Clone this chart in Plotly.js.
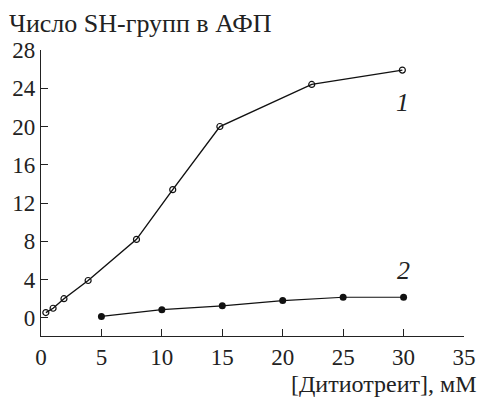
<!DOCTYPE html>
<html><head><meta charset="utf-8">
<script src="https://cdn.plot.ly/plotly-3.0.1.min.js"></script>
<style>html,body{margin:0;padding:0;background:#fff}</style>
</head><body>
<div id="chart" style="width:481px;height:397px"></div>
<script>
const dttConc1 = [0.4, 1.0, 1.9, 3.9, 7.9, 10.9, 14.8, 22.4, 29.9];
const shGroups1 = [0.55, 1.0, 2.0, 3.9, 8.2, 13.4, 20.0, 24.4, 25.9];
const dttConc2 = [5, 10, 15, 20, 25, 30];
const shGroups2 = [0.15, 0.85, 1.25, 1.8, 2.15, 2.15];
const xTicks = [0, 5, 10, 15, 20, 25, 30, 35];
const yTicks = [0, 4, 8, 12, 16, 20, 24, 28];
const seriesLabels = ['1', '2'];
const titleText = 'Число SH-групп в АФП';
const xTitleText = '[Дитиотреит], мМ';

const serif = 'Liberation Serif';
const fsTick = 23;
const fsTitle = 26;
const fsXTitle = 24;
const ink = '#222';
const traces = [
  {x: dttConc1, y: shGroups1, mode: 'lines+markers', type: 'scatter',
   line: {color: '#111', width: 1.4},
   marker: {symbol: 'circle-open', size: 6, color: '#111', line: {width: 1.2, color: '#111'}}},
  {x: dttConc2, y: shGroups2, mode: 'lines+markers', type: 'scatter',
   line: {color: '#111', width: 1.2},
   marker: {symbol: 'circle', size: 7, color: '#111'}}
];
const layout = {
  width: 481, height: 397,
  margin: {l: 41, r: 17, t: 50, b: 61},
  showlegend: false,
  paper_bgcolor: '#fff', plot_bgcolor: '#fff',
  font: {family: serif, size: fsTick, color: ink},
  title: {text: titleText, xref: 'container', yref: 'container', x: 9/481, xanchor: 'left',
          y: 1 - 23/397, yanchor: 'middle', font: {family: serif, size: fsTitle, color: ink}},
  xaxis: {range: [0, 35], tickvals: xTicks, ticktext: xTicks.map(String), ticks: 'inside', ticklen: 7,
          tickcolor: ink, showline: true, linecolor: ink, linewidth: 1.2, showgrid: false, zeroline: false,
          tickfont: {family: serif, size: fsTick, color: ink}},
  yaxis: {range: [-1.9, 28], tickvals: yTicks, ticktext: yTicks.map(String), ticks: 'inside', ticklen: 7,
          tickcolor: ink, showline: true, linecolor: ink, linewidth: 1.2, showgrid: false, zeroline: false,
          tickfont: {family: serif, size: fsTick, color: ink}},
  annotations: [
    {x: dttConc1[8], y: 22.5, xref: 'x', yref: 'y', text: '<i>' + seriesLabels[0] + '</i>', showarrow: false,
     font: {family: serif, size: 26, color: ink}},
    {x: dttConc2[5], y: 5.0, xref: 'x', yref: 'y', text: '<i>' + seriesLabels[1] + '</i>', showarrow: false,
     font: {family: serif, size: 26, color: ink}},
    {x: (479 - 41) / (481 - 41 - 17), y: (397 - 61 - 384) / (397 - 50 - 61), xref: 'paper', yref: 'paper',
     xanchor: 'right', yanchor: 'middle', text: xTitleText, showarrow: false,
     font: {family: serif, size: fsXTitle, color: ink}}
  ]
};
Plotly.newPlot('chart', traces, layout, {displayModeBar: false, staticPlot: true});
</script>
</body></html>
